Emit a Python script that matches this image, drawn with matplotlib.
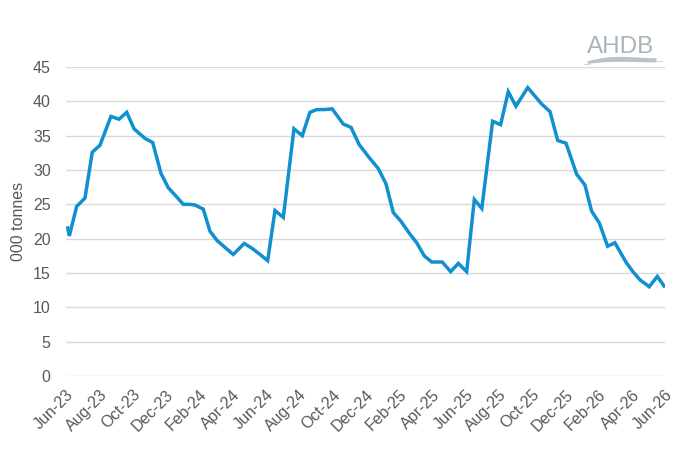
import matplotlib
matplotlib.use("Agg")
import matplotlib.pyplot as plt
import numpy as np

plt.rcParams['font.family'] = ['Liberation Sans', 'DejaVu Sans']

months = [0.08, 0.20, 0.64, 1.14, 1.58, 2.04, 2.70, 3.19, 3.65, 4.09, 4.75, 5.21,
          5.71, 6.15, 6.61, 7.05, 7.45, 7.75, 8.25, 8.65, 9.09, 9.57, 10.05, 10.71,
          11.18, 11.66, 12.12, 12.56, 13.06, 13.70, 14.20, 14.66, 15.07, 15.53, 16.00,
          16.66, 17.13, 17.62, 18.19, 18.77, 19.23, 19.67, 20.11, 20.63, 21.08, 21.53,
          21.98, 22.61, 23.12, 23.58, 24.08, 24.54, 24.99, 25.64, 26.12, 26.58, 27.04,
          27.75, 28.17, 28.59, 29.09, 29.55, 30.05, 30.69, 31.19, 31.59, 32.05, 32.55,
          32.99, 33.65, 34.07, 34.50, 35.05, 35.54, 36.00]
tonnes = [21.8, 20.4, 24.7, 25.9, 32.6, 33.6, 37.8, 37.4, 38.4, 36.0, 34.6, 34.0,
          29.5, 27.4, 26.2, 25.0, 25.0, 24.9, 24.3, 21.1, 19.7, 18.7, 17.7, 19.3,
          18.6, 17.7, 16.8, 24.1, 23.1, 36.0, 35.0, 38.4, 38.8, 38.8, 38.9,
          36.7, 36.2, 33.7, 31.9, 30.2, 28.0, 23.8, 22.6, 20.8, 19.4, 17.5,
          16.6, 16.6, 15.2, 16.4, 15.2, 25.7, 24.4, 37.1, 36.6, 41.4, 39.3,
          42.0, 40.8, 39.6, 38.5, 34.3, 33.9, 29.4, 27.8, 24.0, 22.3, 18.9,
          19.4, 16.6, 15.2, 14.0, 13.0, 14.5, 12.9]

tick_months = list(range(0, 37, 2))
tick_labels = ['Jun-23', 'Aug-23', 'Oct-23', 'Dec-23', 'Feb-24', 'Apr-24', 'Jun-24',
               'Aug-24', 'Oct-24', 'Dec-24', 'Feb-25', 'Apr-25', 'Jun-25', 'Aug-25',
               'Oct-25', 'Dec-25', 'Feb-26', 'Apr-26', 'Jun-26']
y_ticks = [0, 5, 10, 15, 20, 25, 30, 35, 40, 45]

fig = plt.figure(figsize=(6.88, 4.69), dpi=100)
ax = fig.add_axes([66/688, 1-376/469, (665-66)/688, (376-67)/469])

ax.plot(months, tonnes, color='#1190D0', lw=2.5, solid_joinstyle='miter',
        solid_capstyle='butt', zorder=3)

ax.set_xlim(0, 36)
ax.set_ylim(0, 45)
ax.set_yticks(y_ticks)
ax.set_xticks(tick_months)
ax.set_xticklabels(tick_labels, rotation=45, ha='right', rotation_mode='anchor')
ax.grid(axis='y', color='#D9D9D9', lw=1.0)
ax.set_axisbelow(True)
for s in ax.spines.values():
    s.set_visible(False)
ax.tick_params(axis='both', length=0, colors='#595959', labelsize=11.5)
ax.tick_params(axis='y', pad=11)
ax.tick_params(axis='x', pad=8)
ax.set_ylabel('000 tonnes', color='#595959', fontsize=11.5, labelpad=5)

# AHDB logo
fig.text(621/688, 1-47/469, 'AHDB', color='#A9B4BA', fontsize=17.5, ha='center',
         va='center', fontweight='normal')
lax = fig.add_axes([584/688, 1-68/469, 80/688, 14/469])
lax.set_xlim(0, 1)
lax.set_ylim(0, 1)
lax.axis('off')
t = np.linspace(0.04, 0.9, 100)
upper = 0.45 + 0.45 * np.sin(np.pi * t) * (1 - t) + 0.3 * t
lower = 0.30 + 0.2 * np.sin(np.pi * t) * (1 - t) + 0.15 * t
lax.fill_between(t, lower, upper, color='#B8C2C7', lw=0)
lax.plot([0.0, 0.06], [0.3, 0.3], color='#D5DADD', lw=0.8)
lax.plot([0.9, 0.98], [0.5, 0.5], color='#D5DADD', lw=0.8)

fig.savefig('out.png', dpi=100)
